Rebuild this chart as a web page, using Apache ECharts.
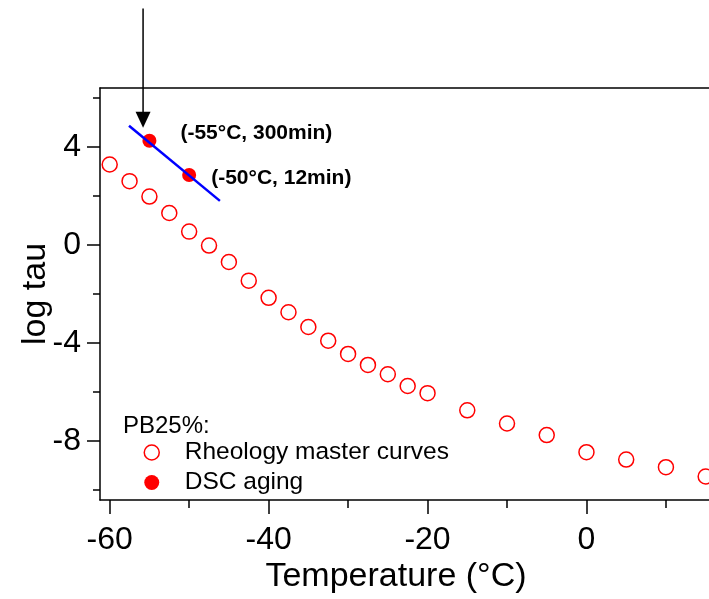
<!DOCTYPE html>
<html><head><meta charset="utf-8">
<script src="https://cdn.jsdelivr.net/npm/echarts@6/dist/echarts.min.js"></script>
<style>html,body{margin:0;padding:0;background:#fff}#c{width:709px;height:599px}</style>
</head><body><div id="c"></div>
<script>
// ---- data ----
const rheologyTemps = [-60, -57.5, -55, -52.5, -50, -47.5, -45, -42.5, -40, -37.5, -35, -32.5, -30, -27.5, -25, -22.5, -20, -15, -10, -5, 0, 5, 10, 15];
const rheologyLogTau = [3.28, 2.60, 1.97, 1.30, 0.54, -0.03, -0.70, -1.46, -2.16, -2.75, -3.35, -3.91, -4.45, -4.90, -5.28, -5.76, -6.05, -6.75, -7.29, -7.76, -8.46, -8.76, -9.07, -9.45];
const dscTemps = [-55, -50];
const dscLogTau = [4.25, 2.85];
const dscLabels = ['(-55°C, 300min)', '(-50°C, 12min)'];
const fitLineTemps = [-57.57, -46.13];
const fitLineLogTau = [4.86, 1.795];
const arrowTemp = -55.8;
const arrowFromLogTau = 9.64;
const arrowToLogTau = 4.78;
const xMajorTicks = [-60, -40, -20, 0];
const xMinorTicks = [-50, -30, -10, 10];
const yMajorTicks = [4, 0, -4, -8];
const yMinorTicks = [6, 2, -2, -6, -10];
const xRange = [-61.22, 15.42];
const yRange = [-10.41, 6.40];
const legendTitle = 'PB25%:';
const seriesNames = ['Rheology master curves', 'DSC aging'];
const xTitle = 'Temperature (°C)';
const yTitle = 'log tau';

// ---- layout/style ----
const FONT = '"Liberation Sans", Arial, sans-serif';
const dscLabelLayout = [{distance: 24, offset: [0, -7]}, {distance: 15, offset: [0, 3]}];
const axisLineStyle = {color: '#000', width: 1.5};

const chart = echarts.init(document.getElementById('c'), null, {renderer: 'canvas'});

const baseX = {type: 'value', min: xRange[0], max: xRange[1], splitLine: {show: false}};
const baseY = {type: 'value', min: yRange[0], max: yRange[1], splitLine: {show: false}};

chart.setOption({
  animation: false,
  backgroundColor: '#fff',
  grid: {left: 100, right: 0, top: 88, bottom: 96, containLabel: false},
  title: {
    text: legendTitle, left: 123, top: 414, padding: 0,
    textStyle: {fontSize: 24, fontWeight: 'normal', color: '#000', fontFamily: FONT, lineHeight: 24}
  },
  legend: {
    orient: 'vertical', left: 143.5, top: 440, padding: 0,
    itemWidth: 56, itemHeight: 15, itemGap: 5,
    textStyle: {fontSize: 24.5, color: '#000', fontFamily: FONT, lineHeight: 24},
    data: [
      {name: seriesNames[0], icon: 'circle', itemStyle: {color: '#fff', borderColor: '#f00', borderWidth: 1.5, opacity: 1}},
      {name: seriesNames[1], icon: 'circle', itemStyle: {color: '#f00', borderWidth: 0, opacity: 1}}
    ]
  },
  xAxis: [
    Object.assign({}, baseX, {
      position: 'bottom',
      axisLine: {show: true, onZero: false, lineStyle: axisLineStyle},
      axisTick: {show: true, customValues: xMajorTicks, length: 14, lineStyle: axisLineStyle},
      axisLabel: {show: true, customValues: xMajorTicks, fontSize: 32, color: '#000', fontFamily: FONT, margin: 24},
      name: xTitle, nameLocation: 'middle', nameGap: 60, nameMoveOverlap: false,
      nameTextStyle: {fontSize: 34, color: '#000', fontFamily: FONT, padding: [0, 17, 0, 0]}
    }),
    Object.assign({}, baseX, {
      position: 'bottom',
      axisLine: {show: false, onZero: false},
      axisTick: {show: true, customValues: xMinorTicks, length: 8, lineStyle: axisLineStyle},
      axisLabel: {show: false}
    }),
    Object.assign({}, baseX, {
      position: 'top',
      axisLine: {show: true, onZero: false, lineStyle: axisLineStyle},
      axisTick: {show: false}, axisLabel: {show: false}
    })
  ],
  yAxis: [
    Object.assign({}, baseY, {
      position: 'left',
      axisLine: {show: true, onZero: false, lineStyle: axisLineStyle},
      axisTick: {show: true, customValues: yMajorTicks, length: 13, lineStyle: axisLineStyle},
      axisLabel: {show: true, customValues: yMajorTicks, fontSize: 32, color: '#000', fontFamily: FONT, margin: 19},
      name: yTitle, nameLocation: 'middle', nameGap: 47, nameRotate: 90, nameMoveOverlap: false,
      nameTextStyle: {fontSize: 34, color: '#000', fontFamily: FONT}
    }),
    Object.assign({}, baseY, {
      position: 'left',
      axisLine: {show: false, onZero: false},
      axisTick: {show: true, customValues: yMinorTicks, length: 7, lineStyle: axisLineStyle},
      axisLabel: {show: false}
    })
  ],
  series: [
    {
      name: seriesNames[0], type: 'scatter', xAxisIndex: 0, yAxisIndex: 0,
      symbol: 'circle', symbolSize: 15,
      itemStyle: {color: '#fff', borderColor: '#f00', borderWidth: 1.5, opacity: 1},
      data: rheologyTemps.map((t, i) => [t, rheologyLogTau[i]]),
      z: 2
    },
    {
      name: seriesNames[1], type: 'scatter', xAxisIndex: 0, yAxisIndex: 0,
      symbol: 'circle', symbolSize: 14,
      itemStyle: {color: '#f00', opacity: 1},
      label: {
        show: true, position: 'right', fontSize: 21, fontWeight: 'bold', color: '#000', fontFamily: FONT, opacity: 1,
        formatter: p => dscLabels[p.dataIndex]
      },
      data: dscTemps.map((t, i) => ({value: [t, dscLogTau[i]], label: dscLabelLayout[i]})),
      z: 3
    },
    {
      name: 'fit', type: 'line', xAxisIndex: 0, yAxisIndex: 0,
      showSymbol: false, symbol: 'none',
      lineStyle: {color: '#00f', width: 2.5},
      data: fitLineTemps.map((t, i) => [t, fitLineLogTau[i]]),
      z: 4, silent: true
    },
    {
      name: 'arrow', type: 'custom', xAxisIndex: 0, yAxisIndex: 0, clip: false, silent: true, z: 5,
      encode: {x: 0, y: [1, 2]},
      data: [[arrowTemp, arrowFromLogTau, arrowToLogTau]],
      renderItem: function (params, api) {
        const p0 = api.coord([api.value(0), api.value(1)]);
        const p1 = api.coord([api.value(0), api.value(2)]);
        return {
          type: 'group',
          children: [
            {type: 'line', shape: {x1: p0[0], y1: p0[1], x2: p1[0], y2: p1[1] - 12}, style: {stroke: '#000', lineWidth: 1.5}},
            {type: 'polygon', shape: {points: [[p1[0], p1[1]], [p1[0] - 7.5, p1[1] - 16], [p1[0] + 7.5, p1[1] - 16]]}, style: {fill: '#000'}}
          ]
        };
      }
    }
  ]
});
</script>
</body></html>
